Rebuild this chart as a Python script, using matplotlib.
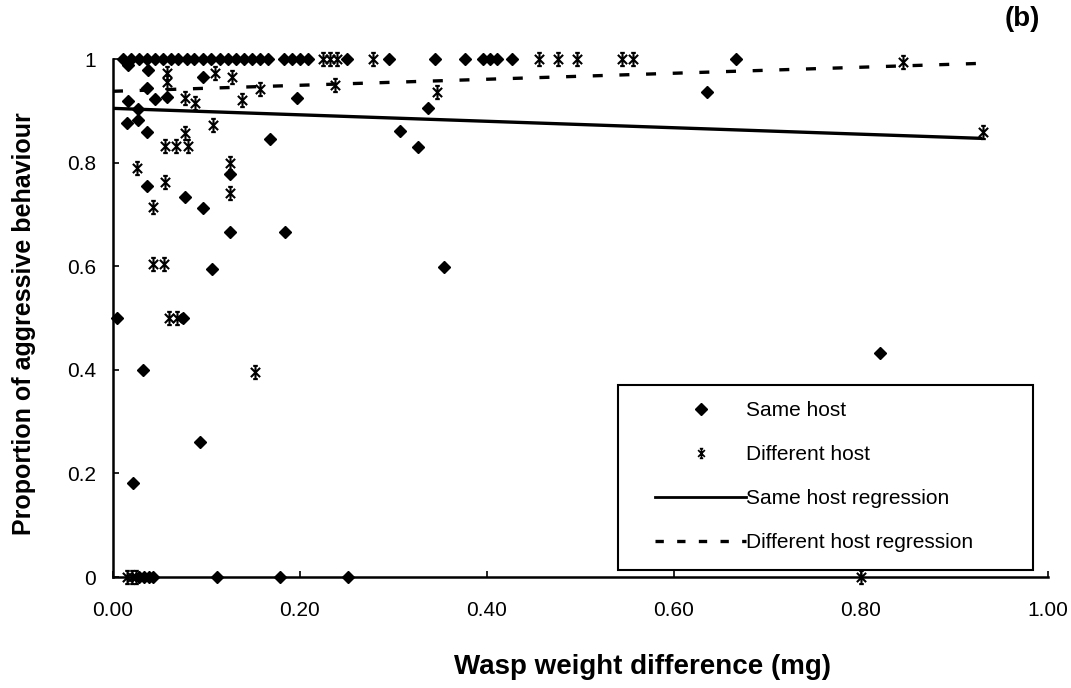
import matplotlib
matplotlib.use("Agg")
import matplotlib.pyplot as plt
from matplotlib.lines import Line2D
from matplotlib.path import Path
from matplotlib.patches import Rectangle

plt.rcParams['font.family'] = ['Liberation Sans', 'DejaVu Sans']

# Same host (diamonds): weight difference (mg) and proportion of aggressive behaviour
same_x = [0.011, 0.019, 0.028, 0.036, 0.045, 0.053, 0.062, 0.070, 0.079, 0.087, 0.096, 0.105,
          0.114, 0.123, 0.132, 0.140, 0.149, 0.157, 0.166, 0.183, 0.191, 0.200, 0.209,
          0.250, 0.295, 0.344, 0.376, 0.396, 0.403, 0.411, 0.427, 0.666,
          0.016, 0.037, 0.096, 0.036, 0.016, 0.027, 0.045, 0.058, 0.015, 0.027, 0.036,
          0.197, 0.168, 0.307, 0.337, 0.326, 0.354, 0.635, 0.820,
          0.036, 0.077, 0.096, 0.125, 0.125, 0.184, 0.106, 0.004, 0.075, 0.032, 0.093, 0.021,
          0.028, 0.033, 0.038, 0.043, 0.111, 0.179, 0.251]
same_y = [1, 1, 1, 1, 1, 1, 1, 1, 1, 1, 1, 1,
          1, 1, 1, 1, 1, 1, 1, 1, 1, 1, 1,
          1, 1, 1, 1, 1, 1, 1, 1, 1,
          0.988, 0.980, 0.965, 0.944, 0.919, 0.903, 0.923, 0.927, 0.876, 0.882, 0.859,
          0.925, 0.845, 0.862, 0.905, 0.830, 0.598, 0.936, 0.432,
          0.755, 0.733, 0.712, 0.778, 0.666, 0.666, 0.594, 0.500, 0.500, 0.400, 0.261, 0.181,
          0, 0, 0, 0, 0, 0, 0]

# Different host (stars)
diff_x = [0.225, 0.232, 0.240, 0.278, 0.456, 0.476, 0.496, 0.544, 0.556, 0.845,
          0.058, 0.058, 0.109, 0.127, 0.077, 0.088, 0.138, 0.157, 0.237, 0.347,
          0.107, 0.077, 0.056, 0.067, 0.080, 0.026, 0.056, 0.125, 0.125, 0.043,
          0.043, 0.055, 0.060, 0.068, 0.152, 0.930, 0.800, 0.015, 0.020, 0.025]
diff_y = [1, 1, 1, 1, 1, 1, 1, 1, 1, 0.995,
          0.973, 0.955, 0.973, 0.965, 0.925, 0.915, 0.921, 0.942, 0.950, 0.936,
          0.873, 0.857, 0.832, 0.832, 0.832, 0.789, 0.762, 0.800, 0.742, 0.714,
          0.604, 0.604, 0.500, 0.500, 0.396, 0.860, 0.0, 0.0, 0.0, 0.0]

# regression lines (end points)
reg_x = [0.0, 0.93]
same_reg_y = [0.905, 0.847]
diff_reg_y = [0.938, 0.992]

x_ticks = [0.0, 0.2, 0.4, 0.6, 0.8, 1.0]
x_tick_labels = ['0.00', '0.20', '0.40', '0.60', '0.80', '1.00']
y_ticks = [0, 0.2, 0.4, 0.6, 0.8, 1.0]
y_tick_labels = ['0', '0.2', '0.4', '0.6', '0.8', '1']

# star marker like the old Excel one: X + vertical bar with caps
star = Path([(-0.7, -0.7), (0.7, 0.7), (-0.7, 0.7), (0.7, -0.7), (0, -1), (0, 1),
             (-0.35, 1), (0.35, 1), (-0.35, -1), (0.35, -1)],
            [Path.MOVETO, Path.LINETO] * 5)

fig = plt.figure(figsize=(10.71, 6.88), dpi=100)
ax = fig.add_axes([0.1055, 0.1613, 0.873, 0.7527])

ax.plot(reg_x, same_reg_y, color='black', lw=2.4, solid_capstyle='butt')
ax.plot(reg_x, diff_reg_y, color='black', lw=2.4, linestyle=(0, (3, 5)))
ax.plot(same_x, same_y, linestyle='none', marker='D', ms=6.5, color='black', clip_on=False, zorder=3)
ax.plot(diff_x, diff_y, linestyle='none', marker=star, ms=9.5, mew=1.5, color='black',
        markerfacecolor='none', clip_on=False, zorder=3)

ax.set_xlim(0, 1)
ax.set_ylim(0, 1)
ax.set_xticks(x_ticks)
ax.set_xticklabels(x_tick_labels)
ax.set_yticks(y_ticks)
ax.set_yticklabels(y_tick_labels)
ax.tick_params(axis='both', direction='in', length=4, width=1.2, labelsize=15)
ax.tick_params(axis='x', pad=17)
ax.tick_params(axis='y', pad=12)
for s in ['top', 'right']:
    ax.spines[s].set_visible(False)
for s in ['left', 'bottom']:
    ax.spines[s].set_linewidth(1.8)

ax.set_xlabel('Wasp weight difference (mg)', fontsize=20, fontweight='bold')
ax.xaxis.set_label_coords(0.566, -0.148)
ax.set_ylabel('Proportion of aggressive behaviour', fontsize=18, fontweight='bold')
ax.yaxis.set_label_coords(-0.082, 0.49)

fig.text(0.955, 0.972, '(b)', fontsize=20, fontweight='bold', ha='center', va='center')

# legend box drawn separately so the padding matches the original
ax.add_patch(Rectangle((0.540, 0.0135), 0.444, 0.357, transform=ax.transAxes,
                       facecolor='white', edgecolor='black', lw=1.5, zorder=4, clip_on=False))

handles = [Line2D([], [], linestyle='none', marker='D', ms=6.5, color='black'),
           Line2D([], [], linestyle='none', marker=star, ms=7, mew=1.2, color='black'),
           Line2D([], [], color='black', lw=2),
           Line2D([], [], color='black', lw=2.4, linestyle=(0, (2.5, 4)))]
labels = ['Same host', 'Different host', 'Same host regression', 'Different host regression']
leg = ax.legend(handles, labels, loc='upper left', bbox_to_anchor=(0.580, 0.339),
                handlelength=4.35, handletextpad=0.0, labelspacing=1.2,
                borderpad=0.0, borderaxespad=0.0, fontsize=15, frameon=False, numpoints=1)
leg.set_zorder(5)

fig.savefig('out.png', dpi=100)
